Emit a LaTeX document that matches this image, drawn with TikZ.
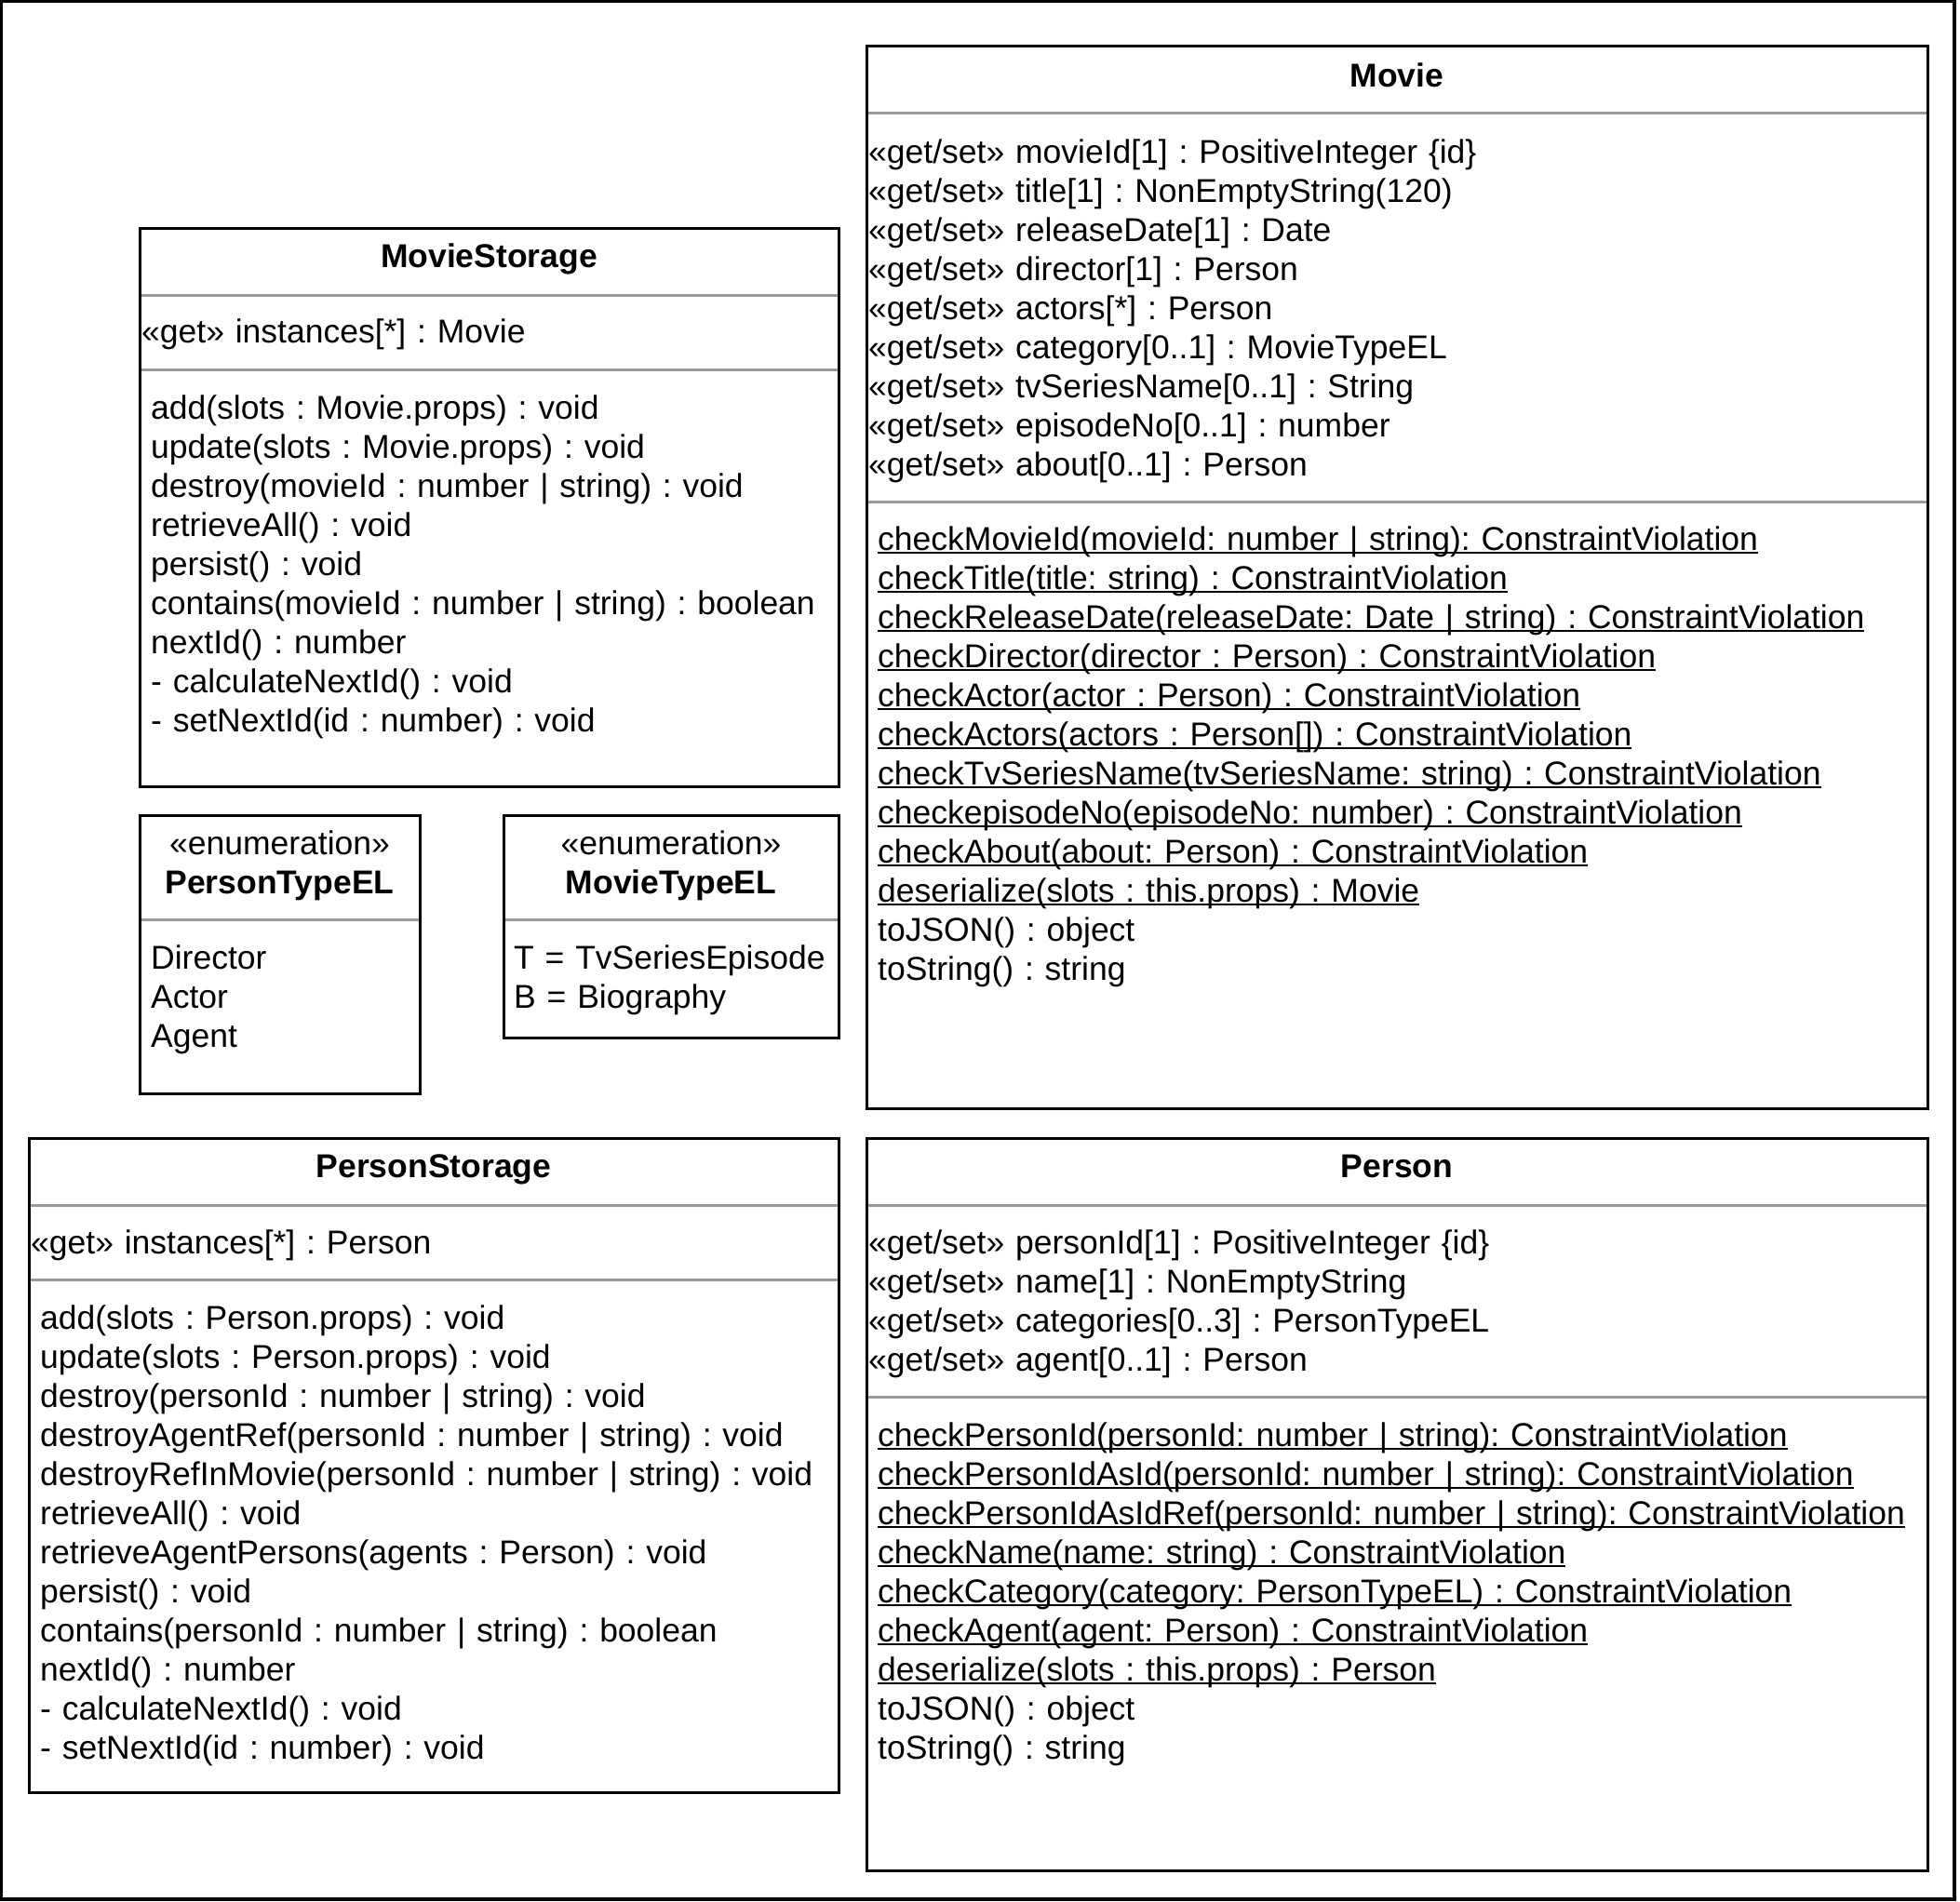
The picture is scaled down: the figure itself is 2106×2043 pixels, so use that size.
\documentclass[tikz,border=0pt]{standalone}
\usepackage{fontspec}
\setmainfont{Liberation Sans}
\usetikzlibrary{positioning}
\definecolor{sepgray}{HTML}{999999}
\frenchspacing
\newcommand\umlfont{\fontsize{35.5}{42}\selectfont}
\newcommand\stat[1]{\leavevmode\setbox0\hbox{#1}\rlap{\rule[-4pt]{\wd0}{2pt}}\box0}

\begin{document}
\begin{tikzpicture}[
  x=1pt, y=-1pt,
  umlbox/.style={draw,line width=3pt,outer sep=0pt,inner sep=0pt},
  sep/.style={draw=sepgray,line width=3pt,shorten <=1.5pt,shorten >=1.5pt},
  title/.style={font=\umlfont\bfseries,anchor=base,inner sep=0pt},
  stereo/.style={font=\umlfont,anchor=base,inner sep=0pt,align=center,text width=#1},
  compart/.style={font=\umlfont,anchor=base west,inner sep=0pt,align=left,text width=#1},
]
\useasboundingbox (0,0) rectangle (2106,2043);
\draw[line width=3.5pt] (1.5,1.5) rectangle (2100,2041);
% MovieStorage
\node[umlbox,minimum width=751pt,minimum height=600pt] (movieStorage) at (525.5,545) {};
\draw[sep] (movieStorage.west |- 0,317) -- (movieStorage.east |- 0,317);
\draw[sep] (movieStorage.west |- 0,397) -- (movieStorage.east |- 0,397);
\node[title] (movieStorageName) at (525.5,287) {MovieStorage};
\node[compart=740pt] (movieStorageAttr) at (152,368) {«get» instances[*] : Movie};
\node[compart=730pt] (movieStorageOps) at (162,450) {add(slots : Movie.props) : void\\
  update(slots : Movie.props) : void\\
  destroy(movieId : number | string) : void\\
  retrieveAll() : void\\
  persist() : void\\
  contains(movieId : number | string) : boolean\\
  nextId() : number\\
  - calculateNextId() : void\\
  - setNextId(id : number) : void};
% Movie
\node[umlbox,minimum width=1140pt,minimum height=1142pt] (movie) at (1501,620) {};
\draw[sep] (movie.west |- 0,121) -- (movie.east |- 0,121);
\draw[sep] (movie.west |- 0,539) -- (movie.east |- 0,539);
\node[title] (movieName) at (1501,93) {Movie};
\node[compart=1130pt] (movieAttr) at (933,175) {«get/set» movieId[1] : PositiveInteger \{id\}\\
  «get/set» title[1] : NonEmptyString(120)\\
  «get/set» releaseDate[1] : Date\\
  «get/set» director[1] : Person\\
  «get/set» actors[*] : Person\\
  «get/set» category[0..1] : MovieTypeEL\\
  «get/set» tvSeriesName[0..1] : String\\
  «get/set» episodeNo[0..1] : number\\
  «get/set» about[0..1] : Person};
\node[compart=1120pt] (movieOps) at (943,591) {\stat{checkMovieId(movieId: number | string): ConstraintViolation}\\
  \stat{checkTitle(title: string) : ConstraintViolation}\\
  \stat{checkReleaseDate(releaseDate: Date | string) : ConstraintViolation}\\
  \stat{checkDirector(director : Person) : ConstraintViolation}\\
  \stat{checkActor(actor : Person) : ConstraintViolation}\\
  \stat{checkActors(actors : Person[]) : ConstraintViolation}\\
  \stat{checkTvSeriesName(tvSeriesName: string) : ConstraintViolation}\\
  \stat{checkepisodeNo(episodeNo: number) : ConstraintViolation}\\
  \stat{checkAbout(about: Person) : ConstraintViolation}\\
  \stat{deserialize(slots : this.props) : Movie}\\
  toJSON() : object\\
  toString() : string};
% enumerations
\node[umlbox,minimum width=301pt,minimum height=299pt] (personType) at (300.5,1025.5) {};
\draw[sep] (personType.west |- 0,988) -- (personType.east |- 0,988);
\node[stereo=290pt] (personTypeName) at (300.5,918) {«enumeration»\\\textbf{PersonTypeEL}};
\node[compart=280pt] (personTypeLit) at (162,1041) {Director\\Actor\\Agent};
\node[umlbox,minimum width=360pt,minimum height=239pt] (movieType) at (721,995.5) {};
\draw[sep] (movieType.west |- 0,988) -- (movieType.east |- 0,988);
\node[stereo=350pt] (movieTypeName) at (721,918) {«enumeration»\\\textbf{MovieTypeEL}};
\node[compart=340pt] (movieTypeLit) at (552,1041) {T = TvSeriesEpisode\\B = Biography};
% PersonStorage
\node[umlbox,minimum width=870pt,minimum height=703pt] (personStorage) at (466,1574.5) {};
\draw[sep] (personStorage.west |- 0,1295) -- (personStorage.east |- 0,1295);
\draw[sep] (personStorage.west |- 0,1375) -- (personStorage.east |- 0,1375);
\node[title] (personStorageName) at (466,1265) {PersonStorage};
\node[compart=860pt] (personStorageAttr) at (33,1347) {«get» instances[*] : Person};
\node[compart=850pt] (personStorageOps) at (43,1428) {add(slots : Person.props) : void\\
  update(slots : Person.props) : void\\
  destroy(personId : number | string) : void\\
  destroyAgentRef(personId : number | string) : void\\
  destroyRefInMovie(personId : number | string) : void\\
  retrieveAll() : void\\
  retrieveAgentPersons(agents : Person) : void\\
  persist() : void\\
  contains(personId : number | string) : boolean\\
  nextId() : number\\
  - calculateNextId() : void\\
  - setNextId(id : number) : void};
% Person
\node[umlbox,minimum width=1140pt,minimum height=787pt] (person) at (1501,1616.5) {};
\draw[sep] (person.west |- 0,1295) -- (person.east |- 0,1295);
\draw[sep] (person.west |- 0,1501) -- (person.east |- 0,1501);
\node[title] (personName) at (1501,1265) {Person};
\node[compart=1130pt] (personAttr) at (933,1347) {«get/set» personId[1] : PositiveInteger \{id\}\\
  «get/set» name[1] : NonEmptyString\\
  «get/set» categories[0..3] : PersonTypeEL\\
  «get/set» agent[0..1] : Person};
\node[compart=1120pt] (personOps) at (943,1554) {\stat{checkPersonId(personId: number | string): ConstraintViolation}\\
  \stat{checkPersonIdAsId(personId: number | string): ConstraintViolation}\\
  \stat{checkPersonIdAsIdRef(personId: number | string): ConstraintViolation}\\
  \stat{checkName(name: string) : ConstraintViolation}\\
  \stat{checkCategory(category: PersonTypeEL) : ConstraintViolation}\\
  \stat{checkAgent(agent: Person) : ConstraintViolation}\\
  \stat{deserialize(slots : this.props) : Person}\\
  toJSON() : object\\
  toString() : string};
\end{tikzpicture}
\end{document}
